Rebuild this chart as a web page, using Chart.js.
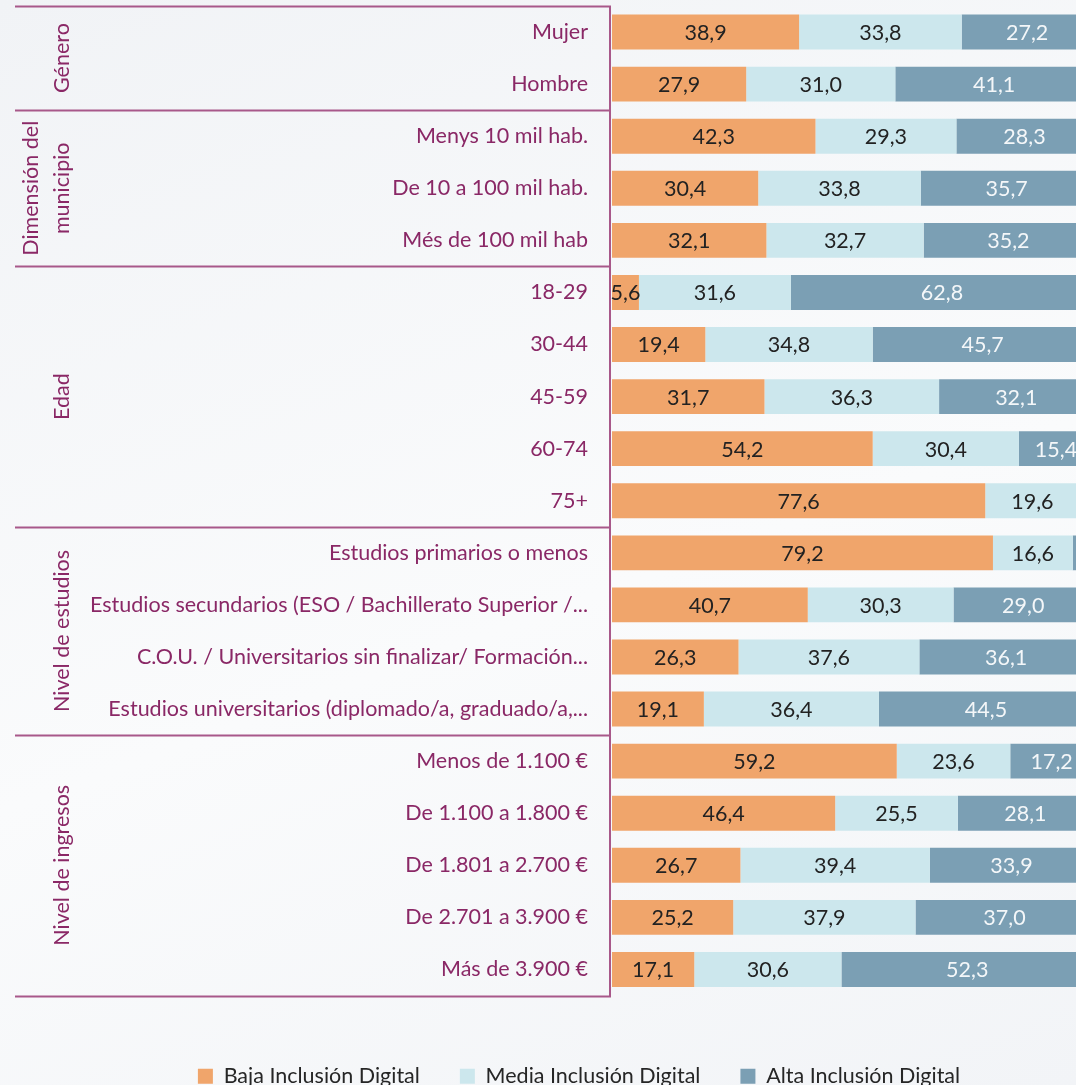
<!DOCTYPE html>
<html>
<head>
<meta charset="utf-8">
<script src="https://cdn.jsdelivr.net/npm/chart.js@4.4.1/dist/chart.umd.min.js"></script>
<style>
  html, body { margin: 0; padding: 0; overflow: hidden; }
  body { background: linear-gradient(160deg, #f1f3f6 0%, #fafbfc 55%, #f2f4f7 100%); width: 1076px; height: 1085px; }
  #wrap { position: absolute; left: 0; top: 0; width: 1158px; height: 1097px; }
</style>
</head>
<body>
<div id="wrap"><canvas id="barChart"></canvas></div>
<script>
// categorias (eje Y)
const categorias = [
  'Mujer', 'Hombre',
  'Menys 10 mil hab.', 'De 10 a 100 mil hab.', 'Més de 100 mil hab',
  '18-29', '30-44', '45-59', '60-74', '75+',
  'Estudios primarios o menos',
  'Estudios secundarios (ESO / Bachillerato Superior /...',
  'C.O.U. / Universitarios sin finalizar/ Formación...',
  'Estudios universitarios (diplomado/a, graduado/a,...',
  'Menos de 1.100 €', 'De 1.100 a 1.800 €', 'De 1.801 a 2.700 €',
  'De 2.701 a 3.900 €', 'Más de 3.900 €'
];

// % por nivel de inclusion digital
const baja  = [38.9, 27.9, 42.3, 30.4, 32.1, 5.6, 19.4, 31.7, 54.2, 77.6, 79.2, 40.7, 26.3, 19.1, 59.2, 46.4, 26.7, 25.2, 17.1];
const media = [33.8, 31.0, 29.3, 33.8, 32.7, 31.6, 34.8, 36.3, 30.4, 19.6, 16.6, 30.3, 37.6, 36.4, 23.6, 25.5, 39.4, 37.9, 30.6];
const alta  = [27.2, 41.1, 28.3, 35.7, 35.2, 62.8, 45.7, 32.1, 15.4, 2.8, 4.2, 29.0, 36.1, 44.5, 17.2, 28.1, 33.9, 37.0, 52.3];

// grupos de la tabla de la izquierda
const grupos = ['Género', 'Dimensión del\nmunicipio', 'Edad', 'Nivel de estudios', 'Nivel de ingresos'];
const tamanoGrupos = [2, 3, 5, 4, 5];

const series = ['Baja Inclusión Digital', 'Media Inclusión Digital', 'Alta Inclusión Digital'];
const colores = ['#f0a56b', '#cce7ed', '#7b9fb4'];
const coloresTexto = ['#222222', '#222222', '#f4f7f9'];

const morado = '#8a2866';
const linea = '#a8588a';
const fuente = 'Lato, "Open Sans", sans-serif';

// etiquetas dentro de las barras
const etiquetas = {
  id: 'etiquetas',
  afterDatasetsDraw(chart) {
    const ctx = chart.ctx;
    ctx.save();
    ctx.font = '21.5px ' + fuente;
    ctx.textAlign = 'center';
    ctx.textBaseline = 'middle';
    chart.data.datasets.forEach((ds, i) => {
      chart.getDatasetMeta(i).data.forEach((bar, j) => {
        const v = ds.data[j];
        if (v < 5) return;
        const cx = (bar.x + bar.base) / 2;
        ctx.fillStyle = coloresTexto[i];
        ctx.fillText(v.toFixed(1).replace('.', ','), cx, bar.y + 1);
      });
    });
    ctx.restore();
  }
};

// lineas y titulos de grupo
const tabla = {
  id: 'tabla',
  afterDraw(chart) {
    const ctx = chart.ctx;
    const y = chart.scales.y;
    const paso = y.getPixelForValue(1) - y.getPixelForValue(0);
    const borde = (i) => y.getPixelForValue(i) - paso / 2;
    const xLinea = chart.chartArea.left - 2;
    ctx.save();
    ctx.strokeStyle = linea;
    ctx.lineWidth = 2;
    let inicio = 0;
    const cortes = [0];
    tamanoGrupos.forEach(n => { inicio += n; cortes.push(inicio); });
    cortes.forEach(c => {
      const yy = Math.round(borde(c)) + 0.5;
      ctx.beginPath();
      ctx.moveTo(15, yy);
      ctx.lineTo(xLinea + 1, yy);
      ctx.stroke();
    });
    ctx.beginPath();
    ctx.moveTo(xLinea, borde(0));
    ctx.lineTo(xLinea, borde(categorias.length) + 1);
    ctx.stroke();

    ctx.fillStyle = morado;
    ctx.font = '21.5px ' + fuente;
    ctx.textAlign = 'center';
    ctx.textBaseline = 'middle';
    grupos.forEach((g, k) => {
      const yc = (borde(cortes[k]) + borde(cortes[k + 1])) / 2;
      const lineas = g.split('\n');
      lineas.forEach((t, n) => {
        ctx.save();
        ctx.translate(62 - (lineas.length - 1 - n) * 31, yc);
        ctx.rotate(-Math.PI / 2);
        ctx.fillText(t, 0, 0);
        ctx.restore();
      });
    });
    ctx.restore();
  }
};

new Chart(document.getElementById('barChart'), {
  type: 'bar',
  data: {
    labels: categorias,
    datasets: [baja, media, alta].map((d, i) => ({
      label: series[i],
      data: d,
      backgroundColor: colores[i],
      borderWidth: 0,
      categoryPercentage: 1,
      barPercentage: 0.67
    }))
  },
  options: {
    indexAxis: 'y',
    responsive: true,
    maintainAspectRatio: false,
    animation: false,
    layout: { padding: { top: 6, left: 65, right: 65, bottom: 0 } },
    scales: {
      x: {
        stacked: true,
        min: 0,
        max: 100,
        grid: { display: false },
        border: { display: false },
        ticks: { display: false },
        afterFit(scale) { scale.height = 30; }
      },
      y: {
        stacked: true,
        grid: { display: false, drawTicks: false },
        border: { display: false },
        ticks: {
          color: morado,
          padding: 24,
          font: { family: fuente, size: 21.5 }
        },
        afterFit(scale) {
          scale.width = 547;
          scale.paddingTop = 0;
          scale.paddingBottom = 0;
        }
      }
    },
    plugins: {
      legend: {
        position: 'bottom',
        labels: {
          boxWidth: 15,
          boxHeight: 15,
          padding: 40,
          color: '#262626',
          font: { family: fuente, size: 21.5 }
        }
      },
      tooltip: { enabled: false }
    }
  },
  plugins: [etiquetas, tabla]
});
</script>
</body>
</html>
